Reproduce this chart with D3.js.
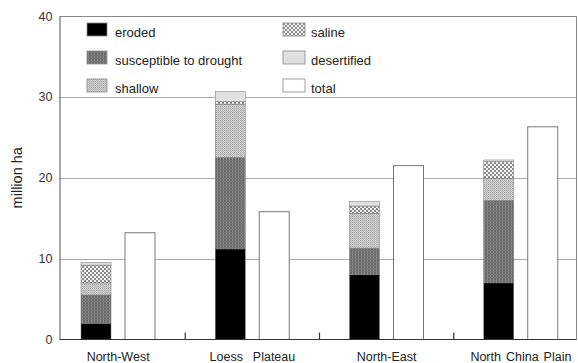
<!DOCTYPE html>
<html>
<head>
<meta charset="utf-8">
<script src="https://cdn.jsdelivr.net/npm/d3@7"></script>
<style>
  body { margin: 0; background: #fff; }
  text { font-family: "Liberation Sans", Arial, sans-serif; }
</style>
</head>
<body>
<div id="chart"></div>
<script>
// data (million ha)
const regions = ["North-West", "Loess  Plateau", "North-East", "North China Plain"];
const layers = ["eroded", "susceptible to drought", "shallow", "saline", "desertified"];
const eroded      = [2.0, 11.2, 8.0, 7.0];
const drought     = [3.5, 11.3, 3.3, 10.2];
const shallow     = [1.5, 6.6, 4.3, 2.7];
const saline      = [2.2, 0.3, 0.9, 2.1];
const desertified = [0.35, 1.25, 0.6, 0.2];
const total       = [13.2, 15.8, 21.5, 26.3];
const yTicks = [0, 10, 20, 30, 40];

const width = 578, height = 363;
const margin = { top: 16, right: 1, bottom: 23, left: 59.5 };

const svg = d3.select("#chart").append("svg")
    .attr("width", width)
    .attr("height", height);

// patterns for the grey fills
const defs = svg.append("defs");

const pDrought = defs.append("pattern").attr("id", "p-drought")
    .attr("patternUnits", "userSpaceOnUse").attr("width", 3).attr("height", 3);
pDrought.append("rect").attr("width", 3).attr("height", 3).attr("fill", "#6a6a6a");
pDrought.append("rect").attr("x", 1).attr("width", 1).attr("height", 3).attr("fill", "#8c8c8c");
pDrought.append("rect").attr("y", 1).attr("width", 3).attr("height", 1).attr("fill", "#777");

const pShallow = defs.append("pattern").attr("id", "p-shallow")
    .attr("patternUnits", "userSpaceOnUse").attr("width", 2).attr("height", 2);
pShallow.append("rect").attr("width", 2).attr("height", 2).attr("fill", "#d2d2d2");
pShallow.append("rect").attr("width", 1).attr("height", 1).attr("fill", "#a8a8a8");
pShallow.append("rect").attr("x", 1).attr("y", 1).attr("width", 1).attr("height", 1).attr("fill", "#b8b8b8");

const pSaline = defs.append("pattern").attr("id", "p-saline")
    .attr("patternUnits", "userSpaceOnUse").attr("width", 4).attr("height", 4);
pSaline.append("rect").attr("width", 4).attr("height", 4).attr("fill", "#f4f4f4");
pSaline.append("rect").attr("width", 2).attr("height", 2).attr("fill", "#8a8a8a");
pSaline.append("rect").attr("x", 2).attr("y", 2).attr("width", 2).attr("height", 2).attr("fill", "#8a8a8a");

const fills = {
    "eroded": "#000",
    "susceptible to drought": "url(#p-drought)",
    "shallow": "url(#p-shallow)",
    "saline": "url(#p-saline)",
    "desertified": "#e0e0e0",
    "total": "#fff"
};

// scales
const y = d3.scaleLinear().domain([0, 40]).range([height - margin.bottom - 0.5, margin.top]);

const x0 = d3.scaleBand().domain(regions).range([51, 588]);
const x1 = d3.scaleBand().domain(["stack", "total"]).range([30, 104]).paddingInner(0.318);

// gridlines
svg.append("g").selectAll("line")
    .data(yTicks.filter(d => d > 0 && d < 40))
    .enter().append("line")
    .attr("x1", margin.left).attr("x2", width - margin.right)
    .attr("y1", d => Math.round(y(d)) + 0.5).attr("y2", d => Math.round(y(d)) + 0.5)
    .attr("stroke", "#aaa").attr("stroke-width", 1);

// frame top and right
svg.append("path")
    .attr("d", `M${margin.left},${margin.top + 0.5}H${width - 1.5}V${y(0)}`)
    .attr("fill", "none").attr("stroke", "#888");

// stacked bars
const rows = regions.map((r, i) => ({
    region: r,
    "eroded": eroded[i],
    "susceptible to drought": drought[i],
    "shallow": shallow[i],
    "saline": saline[i],
    "desertified": desertified[i]
}));
const stacked = d3.stack().keys(layers)(rows);

svg.append("g").selectAll("g")
    .data(stacked)
    .enter().append("g")
    .attr("fill", d => fills[d.key])
    .selectAll("rect")
    .data(d => d)
    .enter().append("rect")
    .attr("x", d => x0(d.data.region) + x1("stack"))
    .attr("y", d => y(d[1]))
    .attr("width", x1.bandwidth())
    .attr("height", d => y(d[0]) - y(d[1]))
    .attr("stroke", "#777")
    .attr("stroke-width", 0.5);

// total bars
svg.append("g").selectAll("rect")
    .data(regions)
    .enter().append("rect")
    .attr("x", d => x0(d) + x1("total"))
    .attr("y", (d, i) => y(total[i]))
    .attr("width", x1.bandwidth())
    .attr("height", (d, i) => y(0) - y(total[i]))
    .attr("fill", "#fff")
    .attr("stroke", "#777")
    .attr("stroke-width", 1);

// y axis
const yAxis = svg.append("g")
    .attr("transform", `translate(${margin.left},0)`)
    .call(d3.axisLeft(y).tickValues(yTicks).tickSize(0).tickPadding(7));
yAxis.select(".domain").attr("stroke", "#555");
yAxis.selectAll("text").attr("font-size", 12.5).attr("fill", "#333")
    .style("font-family", "'Liberation Sans', Arial, sans-serif");

svg.append("text")
    .attr("transform", `translate(22,${(margin.top + y(0)) / 2}) rotate(-90)`)
    .attr("text-anchor", "middle")
    .attr("font-size", 14.5)
    .attr("fill", "#222")
    .text("million ha");

// x axis
const xAxis = svg.append("g")
    .attr("transform", `translate(0,${y(0)})`)
    .call(d3.axisBottom(x0).tickSize(0).tickPadding(13));
xAxis.select(".domain").remove();
xAxis.selectAll("text").attr("font-size", 12.5).attr("fill", "#222")
    .style("white-space", "pre")
    .style("word-spacing", "1.5px")
    .style("font-family", "'Liberation Sans', Arial, sans-serif");

svg.append("line")
    .attr("x1", margin.left).attr("x2", width - 1.5)
    .attr("y1", y(0)).attr("y2", y(0))
    .attr("stroke", "#333");

// separators between regions
svg.append("g").selectAll("line")
    .data(regions.slice(1))
    .enter().append("line")
    .attr("x1", d => x0(d)).attr("x2", d => x0(d))
    .attr("y1", y(0)).attr("y2", y(0) - 7)
    .attr("stroke", "#333").attr("stroke-width", 1.2);

// legend
const legendKeys = layers.concat(["total"]);
const legend = svg.append("g").selectAll("g")
    .data(legendKeys)
    .enter().append("g")
    .attr("transform", (d, i) => `translate(${i < 3 ? 87 : 283},${23 + (i % 3) * 28})`);

legend.append("rect")
    .attr("width", (d, i) => i < 3 ? 20 : 22)
    .attr("height", 13)
    .attr("fill", d => fills[d])
    .attr("stroke", "#888")
    .attr("stroke-width", 0.8);

legend.append("text")
    .attr("x", 28)
    .attr("y", 14)
    .attr("font-size", 13)
    .attr("fill", "#222")
    .text(d => d);
</script>
</body>
</html>
